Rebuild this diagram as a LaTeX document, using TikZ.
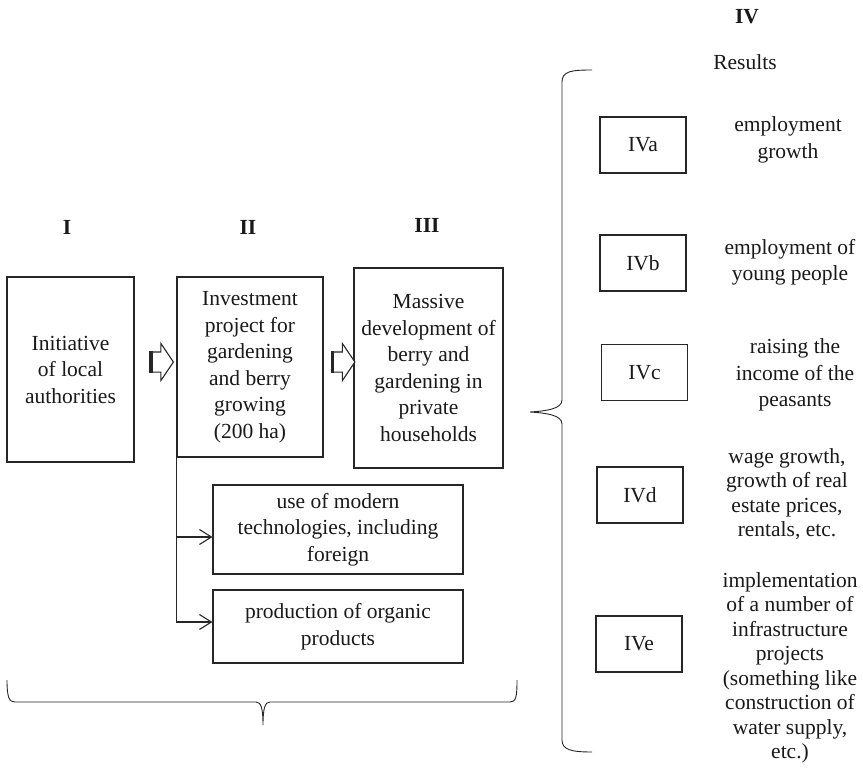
\documentclass[tikz,border=0pt]{standalone}
\usepackage{fontspec}
\setmainfont{Liberation Serif}
\usetikzlibrary{shapes.arrows,arrows.meta}

\begin{document}
\begin{tikzpicture}[x=1pt, y=-1pt, line width=1.1pt, draw=black!85, text=black!90,
    every node/.style={font=\fontsize{21.5}{26.5}\selectfont, align=center, inner sep=0pt},
    box/.style={draw},
    tight/.style={font=\fontsize{21.5}{24.5}\selectfont},
    blockarrow/.style={single arrow, draw, fill=white, minimum height=22pt, minimum width=36pt,
        single arrow head extend=8.5pt, single arrow tip angle=112, inner xsep=0pt, inner ysep=9.5pt},
    >={Straight Barb[length=12pt,width=15pt]}]
    \useasboundingbox (0,0) rectangle (863,779);
    % stage labels
    \node (lblI) at (67,227) {\textbf{I}};
    \node (lblII) at (248,227) {\textbf{II}};
    \node (lblIII) at (427,225) {\textbf{III}};
    \node (lblIV) at (747,17) {\textbf{IV}};
    \node (res) at (745,62) {Results};
    % main chain
    \node[box, minimum width=127pt, minimum height=185pt] (init) at (70.5,369.5) {Initiative\\of local\\authorities};
    \node[box, minimum width=146pt, minimum height=180pt] (inv) at (250,367) {Investment\\project for\\gardening\\and berry\\growing\\(200 ha)};
    \node[box, minimum width=149pt, minimum height=200pt] (mass) at (428.5,368) {Massive\\development of\\berry and\\gardening in\\private\\households};
    \node[blockarrow] (a1) at (159,362) {};
    \node[blockarrow] (a2) at (340.5,362) {};
    \draw[line width=3.5pt] (a1.before tail) -- (a1.after tail);
    \draw[line width=3.5pt] (a2.before tail) -- (a2.after tail);
    % sub-items of the project
    \node[box, minimum width=250pt, minimum height=89pt] (tech) at (338,529.5) {use of modern\\technologies, including\\foreign};
    \node[box, minimum width=250pt, minimum height=73pt] (org) at (338,626.5) {production of organic\\products};
    \draw[->] (inv.south west) |- ([yshift=-7.5pt]tech.west);
    \draw[->] (inv.south west) |- ([yshift=4.5pt]org.west);
    % bottom brace
    \draw[line width=0.9pt] (7,680) .. controls (7,697) and (9,702) .. (15,702) -- (256,702)
        .. controls (261,702) and (263,708) .. (263,725) .. controls (263,708) and (265,702) .. (270,702)
        -- (510,702) .. controls (516,702) and (517,697) .. (517,680);
    % right brace
    \draw[line width=0.9pt] (592,70) .. controls (572,70) and (562,71) .. (562,82) -- (562,400)
        .. controls (562,409) and (546,411) .. (530,412) .. controls (546,413) and (562,415) .. (562,424)
        -- (562,740) .. controls (562,750) and (572,752) .. (592,752);
    % results
    \node[box, minimum width=86pt, minimum height=56pt] (iva) at (643,145) {IVa};
    \node[box, minimum width=86pt, minimum height=56pt] (ivb) at (643,263) {IVb};
    \node[box, minimum width=86pt, minimum height=56pt] (ivc) at (644.5,372.5) {IVc};
    \node[box, minimum width=86pt, minimum height=56pt] (ivd) at (640,495) {IVd};
    \node[box, minimum width=86pt, minimum height=56pt] (ive) at (639,644) {IVe};
    \node (ta) at (788,140) {employment\\growth};
    \node (tb) at (790,262) {employment of\\young people};
    \node (tc) at (795,375) {raising the\\income of the\\peasants};
    \node[tight] (td) at (787,494) {wage growth,\\growth of real\\estate prices,\\rentals, etc.};
    \node[tight] (te) at (790,668) {implementation\\of a number of\\infrastructure\\projects\\(something like\\construction of\\water supply,\\etc.)};
\end{tikzpicture}
\end{document}
